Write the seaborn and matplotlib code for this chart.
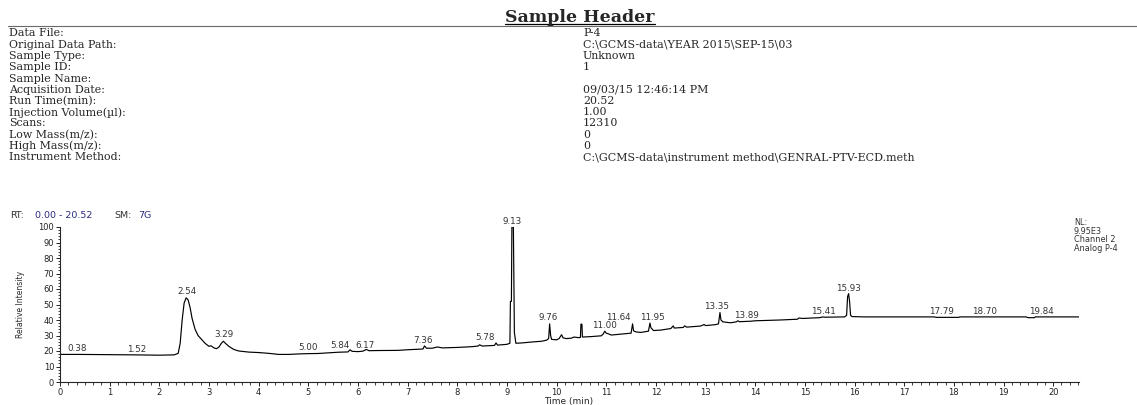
import matplotlib
matplotlib.use("Agg")
import matplotlib.pyplot as plt
from matplotlib.lines import Line2D
from matplotlib.ticker import MultipleLocator
import seaborn as sns
import pandas as pd

# ---------------- data ----------------
header_fields = ["Data File:", "Original Data Path:", "Sample Type:", "Sample ID:",
                 "Sample Name:", "Acquisition Date:", "Run Time(min):",
                 "Injection Volume(\u00b5l):", "Scans:", "Low Mass(m/z):",
                 "High Mass(m/z):", "Instrument Method:"]
header_values = ["P-4", "C:\\GCMS-data\\YEAR 2015\\SEP-15\\03", "Unknown", "1", "",
                 "09/03/15 12:46:14 PM", "20.52", "1.00", "12310", "0", "0",
                 "C:\\GCMS-data\\instrument method\\GENRAL-PTV-ECD.meth"]

rt = [0.00, 0.38, 1.20, 1.52, 2.00, 2.30, 2.38, 2.42, 2.46, 2.50, 2.54, 2.58, 2.62,
      2.66, 2.72, 2.78, 2.85, 2.92, 3.00, 3.04, 3.10, 3.15, 3.20, 3.25, 3.29, 3.33,
      3.40, 3.50, 3.60, 3.80, 4.00, 4.20, 4.40, 4.60, 4.80, 5.00, 5.20, 5.40, 5.60,
      5.80, 5.84, 5.88, 6.00, 6.10, 6.17, 6.22, 6.40, 6.80, 7.00, 7.31, 7.34, 7.38,
      7.50, 7.60, 7.70, 8.00, 8.30, 8.42, 8.45, 8.50, 8.75, 8.78, 8.81, 9.00, 9.06,
      9.07, 9.09, 9.10, 9.12, 9.13, 9.15, 9.18, 9.30, 9.50, 9.70, 9.80, 9.84, 9.86,
      9.88, 9.90, 10.00, 10.05, 10.10, 10.13, 10.20, 10.30, 10.35, 10.45, 10.48,
      10.49, 10.51, 10.52, 10.70, 10.90, 10.94, 10.97, 11.00, 11.05, 11.10, 11.20,
      11.40, 11.50, 11.53, 11.55, 11.60, 11.70, 11.85, 11.88, 11.90, 11.93, 11.95,
      12.10, 12.30, 12.35, 12.37, 12.55, 12.58, 12.62, 12.90, 12.97, 13.00, 13.20,
      13.26, 13.29, 13.31, 13.35, 13.50, 13.62, 13.65, 13.68, 13.90, 14.00, 14.50,
      14.85, 14.88, 14.95, 15.30, 15.36, 15.40, 15.80, 15.84, 15.86, 15.88, 15.90,
      15.92, 15.95, 16.20, 17.60, 17.65, 18.10, 18.12, 19.45, 19.50, 19.62, 19.64,
      20.52]
intensity = [17.8, 17.8, 17.6, 17.5, 17.3, 17.5, 18.5, 25.0, 40.0, 51.0, 54.3, 53.0,
             48.0, 41.0, 34.0, 30.0, 27.5, 25.0, 23.0, 23.4, 22.0, 21.5, 22.5, 25.0,
             26.3, 25.0, 23.0, 21.0, 20.0, 19.3, 19.0, 18.5, 17.8, 17.8, 18.1, 18.3,
             18.4, 18.8, 19.2, 19.4, 20.8, 19.8, 19.6, 19.9, 21.0, 20.2, 20.3, 20.4,
             20.8, 21.3, 23.3, 21.8, 21.8, 22.6, 22.0, 22.3, 22.8, 23.2, 24.0, 23.2,
             23.6, 25.2, 23.8, 24.3, 25.0, 52.0, 52.0, 100.0, 100.0, 100.0, 32.0,
             25.0, 25.2, 25.8, 26.3, 27.0, 28.0, 37.5, 30.0, 27.5, 27.2, 28.0, 30.5,
             28.5, 28.0, 28.3, 29.0, 28.6, 28.8, 37.3, 37.3, 29.0, 29.3, 29.8, 31.0,
             32.8, 31.5, 31.0, 30.3, 30.6, 31.2, 31.5, 37.5, 33.0, 32.3, 32.0, 32.8,
             38.0, 35.0, 34.0, 33.2, 33.5, 34.5, 36.2, 34.8, 35.2, 36.2, 35.4, 36.1,
             37.1, 36.4, 37.0, 37.5, 44.8, 40.0, 38.8, 38.2, 38.8, 39.5, 38.9, 39.2,
             39.5, 40.0, 40.5, 41.3, 41.0, 41.5, 42.0, 41.8, 42.0, 43.0, 55.0, 57.0,
             52.0, 43.0, 42.2, 42.0, 42.0, 41.7, 41.7, 42.0, 42.0, 41.5, 41.5, 42.0,
             42.0]

peak_labels = ["0.38", "1.52", "2.54", "3.29", "5.00", "5.84", "6.17", "7.36", "5.78",
               "9.13", "9.76", "11.00", "11.64", "11.95", "13.35", "13.89", "15.41",
               "15.93", "17.79", "18.70", "19.84"]
label_x = [0.34, 1.54, 2.55, 3.30, 5.00, 5.64, 6.14, 7.31, 8.55, 9.10, 9.83, 10.96,
           11.24, 11.92, 13.23, 13.83, 15.37, 15.88, 17.76, 18.61, 19.77]
label_y = [18.5, 18.3, 55.5, 27.5, 19.2, 20.6, 20.6, 23.8, 25.6, 100.8, 38.5, 33.5,
           38.5, 39.0, 45.5, 40.3, 42.5, 57.3, 42.3, 42.3, 42.3]

nl_lines = ["NL:", "9.95E3", "Channel 2", "Analog P-4"]

# ---------------- figure ----------------
sns.set_style("ticks")
plt.rcParams["font.family"] = ["DejaVu Sans"]

W, H = 1137, 405
fig = plt.figure(figsize=(W / 100, H / 100), dpi=100)

def fx(px):
    return px / W

def fy(py):
    return 1 - py / H

serif = ["DejaVu Serif"]

# Title and rules
title = fig.text(fx(580), fy(17.0), "Sample Header", family=serif, fontsize=12.5,
                 fontweight="bold", ha="center", va="center")
fig.add_artist(Line2D([fx(8), fx(1137)], [fy(25.8), fy(25.8)],
                      transform=fig.transFigure, color="#6a6a6a", lw=0.8))

row0, step = 33.5, 11.25
for i, (k, v) in enumerate(zip(header_fields, header_values)):
    yy = fy(row0 + i * step)
    fig.text(fx(9), yy, k, family=serif, fontsize=7.9, ha="left", va="center")
    fig.text(fx(583), yy, v, family=serif, fontsize=7.9, ha="left", va="center")

# Chart axes
ax_top, ax_bot = 227, 382
ax = fig.add_axes([fx(60), 1 - ax_bot / H, (1079 - 60) / W, (ax_bot - ax_top) / H])
df = pd.DataFrame({"rt": rt, "intensity": intensity})
sns.lineplot(data=df, x="rt", y="intensity", ax=ax, color="black", lw=0.85,
             estimator=None, sort=False)
ax.set_xlim(0, 20.52)
ax.set_ylim(0, 100)
sns.despine(ax=ax)
ax.spines["left"].set_linewidth(0.8)
ax.spines["bottom"].set_linewidth(0.8)
ax.xaxis.set_major_locator(MultipleLocator(1))
ax.xaxis.set_minor_locator(MultipleLocator(1 / 6))
ax.yaxis.set_major_locator(MultipleLocator(10))
ax.yaxis.set_minor_locator(MultipleLocator(2))
ax.tick_params(axis="both", which="major", length=3.0, width=0.7, labelsize=6.0,
               pad=1.2, colors="#222222")
ax.tick_params(axis="both", which="minor", length=1.8, width=0.6, colors="#222222")
ax.set_xlabel("Time (min)", fontsize=6.5, labelpad=0)
ax.set_ylabel("Relative Intensity", fontsize=5.5, labelpad=4)
ax.yaxis.set_label_coords(-0.034, 0.5)
ax.xaxis.set_label_coords(0.499, -(397.0 - ax_bot) / (ax_bot - ax_top))

for t, x, y in zip(peak_labels, label_x, label_y):
    ax.text(x, y, t, fontsize=6.3, ha="center", va="bottom", color="#333333",
            clip_on=False)

# RT / SM header line
fig.text(fx(10), fy(215), "RT:", fontsize=6.8, color="#333333", va="center")
fig.text(fx(35), fy(215), "0.00 - 20.52", fontsize=6.8, color="#2a2a80", va="center")
fig.text(fx(114), fy(215), "SM:", fontsize=6.8, color="#333333", va="center")
fig.text(fx(138), fy(215), "7G", fontsize=6.8, color="#2a2a80", va="center")

for i, t in enumerate(nl_lines):
    fig.text(fx(1074), fy(222.5 + i * 8.6), t, fontsize=5.9, color="#333333",
             va="center", ha="left")

# underline the title using its rendered extent
fig.canvas.draw()
bb = title.get_window_extent(renderer=fig.canvas.get_renderer())
fig.add_artist(Line2D([bb.x0 / W, bb.x1 / W], [fy(24.0), fy(24.0)],
                      transform=fig.transFigure, color="black", lw=0.9))

fig.savefig("out.png", dpi=100)
